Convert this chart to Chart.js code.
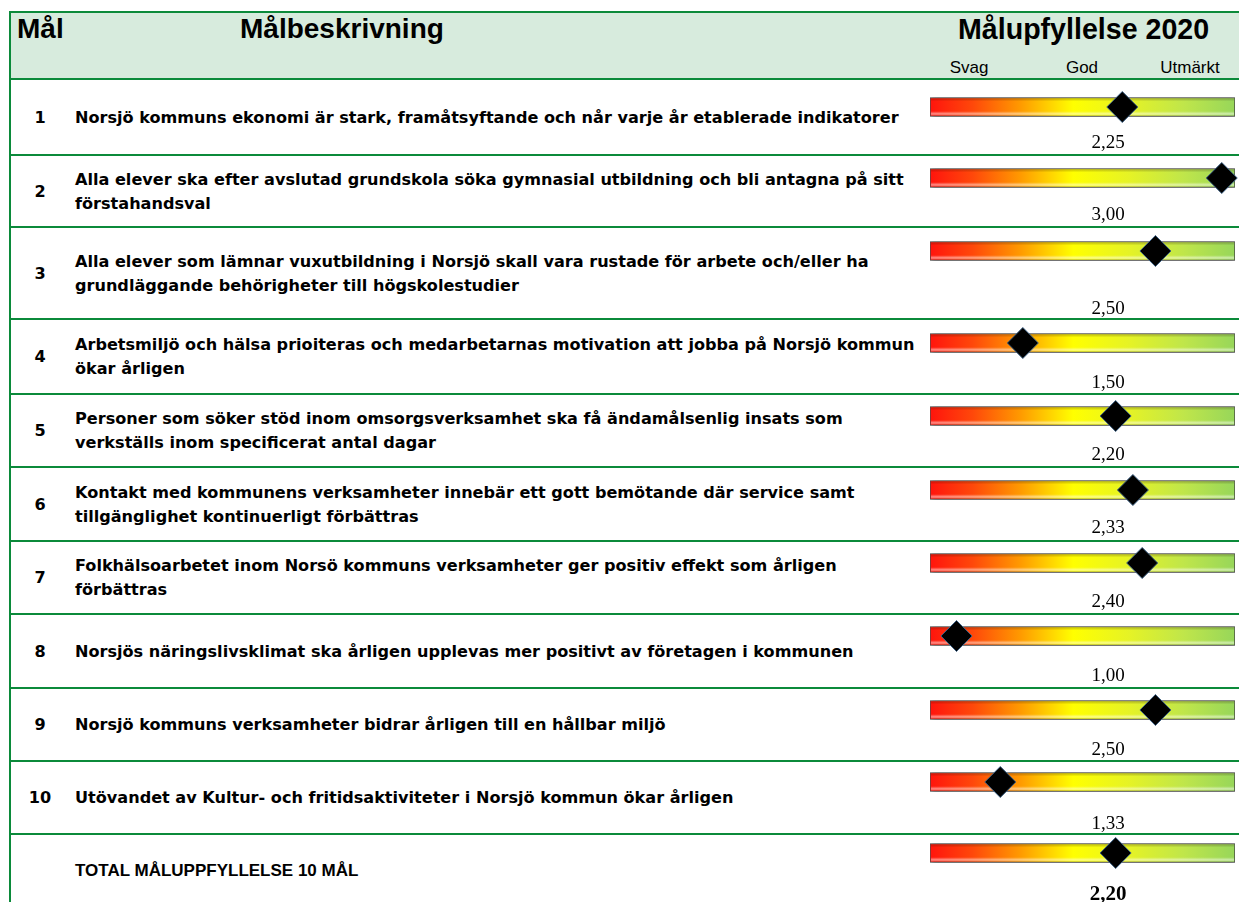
<!DOCTYPE html>
<html lang="sv">
<head>
<meta charset="utf-8">
<title>Målupfyllelse 2020</title>
<script src="https://cdn.jsdelivr.net/npm/chart.js@4.4.1/dist/chart.umd.min.js"></script>
<style>
  html, body { margin: 0; padding: 0; background: #fff; overflow: hidden; }
  #page { position: relative; width: 1239px; height: 902px; overflow: hidden; font-family: "Liberation Sans", Arial, sans-serif; color: #000; }
  .abs { position: absolute; }
  .hline { position: absolute; left: 10px; right: 0; height: 2px; background: #0b8a3a; }
  .cell { position: absolute; display: flex; align-items: center; font-family: "DejaVu Sans", Verdana, sans-serif; font-weight: bold; font-size: 16.1px; line-height: 24px; white-space: nowrap; }
  .total { font-family: "Liberation Sans", Arial, sans-serif; font-size: 17px; }
  .head { position: absolute; font-weight: bold; font-size: 28px; line-height: 28px; white-space: nowrap; }
  .scale { position: absolute; font-size: 17px; line-height: 17px; white-space: nowrap; transform: translateX(-50%); }
  canvas { position: absolute; }
</style>
</head>
<body>
<div id="page"></div>
<script>
// data
const headers = ["Mål", "Målbeskrivning", "Målupfyllelse 2020"]
const scaleLabels = ["Svag", "God", "Utmärkt"]
const goalNumbers = ["1", "2", "3", "4", "5", "6", "7", "8", "9", "10"]
const goalTexts = [
    ["Norsjö kommuns ekonomi är stark, framåtsyftande och når varje år etablerade indikatorer"],
    ["Alla elever ska efter avslutad grundskola söka gymnasial utbildning och bli antagna på sitt", "förstahandsval"],
    ["Alla elever som lämnar vuxutbildning i Norsjö skall vara rustade för arbete och/eller ha", "grundläggande behörigheter till högskolestudier"],
    ["Arbetsmiljö och hälsa prioiteras och medarbetarnas motivation att jobba på Norsjö kommun", "ökar årligen"],
    ["Personer som söker stöd inom omsorgsverksamhet ska få ändamålsenlig insats som", "verkställs inom specificerat antal dagar"],
    ["Kontakt med kommunens verksamheter innebär ett gott bemötande där service samt", "tillgänglighet kontinuerligt förbättras"],
    ["Folkhälsoarbetet inom Norsö kommuns verksamheter ger positiv effekt som årligen", "förbättras"],
    ["Norsjös näringslivsklimat ska årligen upplevas mer positivt av företagen i kommunen"],
    ["Norsjö kommuns verksamheter bidrar årligen till en hållbar miljö"],
    ["Utövandet av Kultur- och fritidsaktiviteter i Norsjö kommun ökar årligen"]
]
const goalScores = [2.25, 3.00, 2.50, 1.50, 2.20, 2.33, 2.40, 1.00, 2.50, 1.33]
const totalText = "TOTAL MÅLUPPFYLLELSE 10 MÅL"
const totalScore = 2.20
const scaleMin = 0.8
const scaleMax = 3.1

// layout (pixels)
const rowLines = [79, 155, 227, 319, 394, 467, 541, 614, 688, 761, 834]
const barCenters = [107, 178, 251, 343, 416, 490, 563, 636, 710, 782, 853]
const labelBaselines = [148, 220, 314, 388, 460, 533, 607, 681, 755, 829, 900]
const scaleLabelX = [969, 1082, 1190]

const page = document.getElementById("page")

function add(cls, style, html) {
    const d = document.createElement("div")
    d.className = cls
    Object.assign(d.style, style)
    if (html !== undefined) d.innerHTML = html
    page.appendChild(d)
    return d
}

// header band + grid lines
add("abs", {left: "10px", top: "12px", width: "1229px", height: "67px", background: "#d7ebdd"})
add("hline", {top: "11px"})
rowLines.forEach(y => add("hline", {top: (y - 1) + "px"}))
add("abs", {left: "9px", top: "11px", width: "2px", height: "891px", background: "#0b8a3a"})

add("head", {left: "17px", top: "15px"}, headers[0])
add("head", {left: "240px", top: "15px"}, headers[1])
add("head", {left: "958px", top: "15px", fontSize: "28.6px"}, headers[2])
scaleLabels.forEach((t, i) => add("scale", {left: scaleLabelX[i] + "px", top: "59px"}, t))

// rows
goalTexts.forEach((lines, i) => {
    const top = rowLines[i] + 1
    const h = (rowLines[i + 1] || 908) - top
    add("cell", {left: "10px", width: "60px", top: top + "px", height: h + "px", justifyContent: "center"}, goalNumbers[i])
    add("cell", {left: "75px", top: top + "px", height: h + "px"}, "<div>" + lines.join("<br>") + "</div>")
})
add("cell total", {left: "75px", top: "835px", height: "72px"}, totalText)

const fmt = v => v.toFixed(2).replace(".", ",")

const barLook = {
    id: "barLook",
    beforeDatasetDraw(chart, args) {
        if (args.meta.type !== "bar") return
        const ctx = chart.ctx
        ctx.save()
        ctx.shadowColor = "rgba(0,0,0,0.55)"
        ctx.shadowBlur = 5
        ctx.shadowOffsetX = 1
        ctx.shadowOffsetY = 1
    },
    afterDatasetDraw(chart, args) {
        if (args.meta.type !== "bar") return
        const ctx = chart.ctx
        ctx.restore()
        const bar = args.meta.data[0]
        const left = Math.min(bar.x, bar.base), right = Math.max(bar.x, bar.base)
        const top = bar.y - bar.height / 2, bottom = bar.y + bar.height / 2
        const g = ctx.createLinearGradient(0, top, 0, bottom)
        g.addColorStop(0, "rgba(80,40,0,0.35)")
        g.addColorStop(0.2, "rgba(0,0,0,0)")
        g.addColorStop(0.72, "rgba(255,255,255,0)")
        g.addColorStop(0.86, "rgba(255,255,255,0.5)")
        g.addColorStop(1, "rgba(255,255,255,0)")
        ctx.save()
        ctx.fillStyle = g
        ctx.fillRect(left + 1, top + 1, right - left - 2, bottom - top - 2)
        ctx.restore()
    }
}

const valueLabel = {
    id: "valueLabel",
    afterDraw(chart, args, opts) {
        const ctx = chart.ctx
        ctx.save()
        ctx.font = opts.font
        ctx.fillStyle = "#000"
        ctx.textAlign = "center"
        ctx.textBaseline = "alphabetic"
        ctx.fillText(opts.text, opts.x, opts.y)
        ctx.restore()
    }
}

function gauge(score, i, bold) {
    const canvas = document.createElement("canvas")
    const top = barCenters[i] - 20
    const height = labelBaselines[i] - top + 8
    canvas.width = 339
    canvas.height = height
    canvas.style.left = "900px"
    canvas.style.top = top + "px"
    canvas.style.width = "339px"
    canvas.style.height = height + "px"
    page.appendChild(canvas)

    new Chart(canvas, {
        type: "bar",
        data: {
            labels: [""],
            datasets: [{
                type: "line",
                data: [score],
                showLine: false,
                pointStyle: "rectRot",
                pointRadius: 15.5,
                pointHoverRadius: 15.5,
                pointBackgroundColor: "#000",
                pointBorderColor: "#3b5f82",
                pointBorderWidth: 1,
                clip: false,
                order: 1
            }, {
                data: [[scaleMin, scaleMax]],
                barThickness: 19,
                borderWidth: 1,
                borderColor: "#555",
                borderSkipped: false,
                order: 2,
                backgroundColor: (context) => {
                    const {ctx, chartArea} = context.chart
                    if (!chartArea) return null
                    const g = ctx.createLinearGradient(chartArea.left, 0, chartArea.right, 0)
                    g.addColorStop(0, "#ff140d")
                    g.addColorStop(0.14, "#ff480a")
                    g.addColorStop(0.3, "#ff9c00")
                    g.addColorStop(0.47, "#ffff00")
                    g.addColorStop(0.65, "#e6f325")
                    g.addColorStop(0.83, "#c0e64a")
                    g.addColorStop(1, "#97d65a")
                    return g
                }
            }]
        },
        options: {
            indexAxis: "y",
            responsive: false,
            animation: false,
            events: [],
            layout: {autoPadding: false, padding: {left: 30, right: 4, top: 0, bottom: height - 40}},
            scales: {
                x: {type: "linear", min: scaleMin, max: scaleMax, display: false},
                y: {display: false}
            },
            plugins: {
                legend: {display: false},
                tooltip: {enabled: false},
                valueLabel: {
                    text: fmt(score),
                    x: 208,
                    y: labelBaselines[i] - top,
                    font: (bold ? "bold 21px" : "19px") + ' "Liberation Serif", "Times New Roman", serif'
                }
            }
        },
        plugins: [barLook, valueLabel]
    })
}

goalScores.forEach((s, i) => gauge(s, i, false))
gauge(totalScore, 10, true)
</script>
</body>
</html>
